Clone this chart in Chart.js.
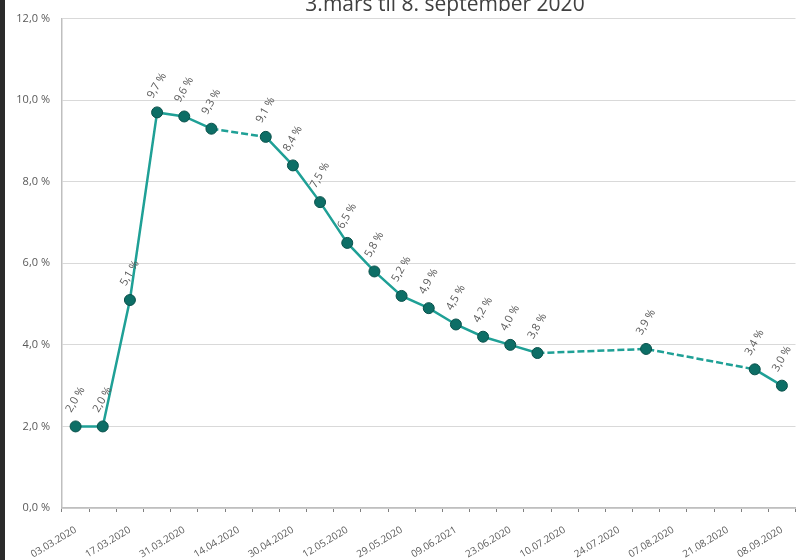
<!DOCTYPE html>
<html>
<head>
<meta charset="utf-8">
<script src="https://cdn.jsdelivr.net/npm/chart.js@4"></script>
<style>
  html, body { margin: 0; padding: 0; background: #fff; }
  #wrap { position: relative; width: 802px; height: 560px; }
  #bar { position: absolute; left: 0; top: 0; width: 5px; height: 560px; background: #2b2b2b; }
</style>
</head>
<body>
<div id="wrap">
  <canvas id="chart" width="802" height="560"></canvas>
  <div id="bar"></div>
</div>
<script>
// Data lest av bildet (ukentlige kategorier, null = ingen måling)
const titleText = '3.mars til 8. september 2020';
const tickLabels = ['03.03.2020', '17.03.2020', '31.03.2020', '14.04.2020', '30.04.2020', '12.05.2020',
  '29.05.2020', '09.06.2021', '23.06.2020', '10.07.2020', '24.07.2020', '07.08.2020', '21.08.2020', '08.09.2020'];
const values = [2.0, 2.0, 5.1, 9.7, 9.6, 9.3, null, 9.1, 8.4, 7.5, 6.5, 5.8, 5.2, 4.9, 4.5, 4.2, 4.0, 3.8,
  null, null, null, 3.9, null, null, null, 3.4, 3.0];
const yTicks = [0, 2, 4, 6, 8, 10, 12];

const labels = values.map((v, i) => (i % 2 === 0 ? tickLabels[i / 2] : ''));
const fmt = v => v.toFixed(1).replace('.', ',') + ' %';
const grey = '#595959';

const titlePlugin = {
  id: 'topTitle',
  afterDraw(chart) {
    const c = chart.ctx;
    c.save();
    c.font = '21px "Open Sans"';
    c.fillStyle = '#404040';
    c.textAlign = 'center';
    c.textBaseline = 'alphabetic';
    c.fillText(titleText, 445, 11);
    c.restore();
  }
};

const valueLabels = {
  id: 'valueLabels',
  afterDatasetsDraw(chart) {
    const c = chart.ctx;
    const meta = chart.getDatasetMeta(0);
    c.save();
    c.font = '11px "Open Sans"';
    c.fillStyle = grey;
    c.textAlign = 'left';
    c.textBaseline = 'middle';
    meta.data.forEach((pt, i) => {
      if (values[i] === null) return;
      c.save();
      c.translate(pt.x - 7, pt.y - 15);
      c.rotate(-60 * Math.PI / 180);
      c.fillText(fmt(values[i]), 0, 0);
      c.restore();
    });
    c.restore();
  }
};

const ctx = document.getElementById('chart').getContext('2d');
new Chart(ctx, {
  type: 'line',
  data: {
    labels: labels,
    datasets: [{
      data: values,
      spanGaps: true,
      borderColor: '#1fa096',
      borderWidth: 2.5,
      tension: 0,
      pointRadius: 5.5,
      pointHoverRadius: 5.5,
      pointBorderWidth: 1,
      pointBackgroundColor: '#0d6e66',
      pointBorderColor: '#0a514b',
      segment: {
        // stiplet der det mangler målinger
        borderDash: s => (s.p0.skip || s.p1.skip ? [7, 3] : undefined)
      }
    }]
  },
  options: {
    responsive: false,
    animation: false,
    layout: { padding: { top: 14, right: 2, left: 0, bottom: 0 } },
    plugins: {
      legend: { display: false },
      title: { display: false },
      tooltip: { enabled: false }
    },
    scales: {
      x: {
        type: 'category',
        offset: true,
        grid: {
          offset: true,
          drawOnChartArea: false,
          drawTicks: true,
          tickLength: 4,
          color: '#7f7f7f'
        },
        border: { color: '#bfbfbf', width: 1.5 },
        ticks: {
          autoSkip: false,
          minRotation: 31,
          maxRotation: 31,
          padding: 12,
          color: grey,
          font: { family: 'Open Sans', size: 10 }
        },
        afterFit: s => { s.height = 52; }
      },
      y: {
        min: 0,
        max: 12,
        afterBuildTicks: s => { s.ticks = yTicks.map(v => ({ value: v })); },
        grid: { color: '#d9d9d9', drawTicks: false },
        border: { color: '#bfbfbf', width: 1.5 },
        ticks: {
          padding: 12,
          color: grey,
          font: { family: 'Open Sans', size: 11 },
          callback: v => fmt(v)
        },
        afterFit: s => { s.width = 62; }
      }
    }
  },
  plugins: [titlePlugin, valueLabels]
});
</script>
</body>
</html>
